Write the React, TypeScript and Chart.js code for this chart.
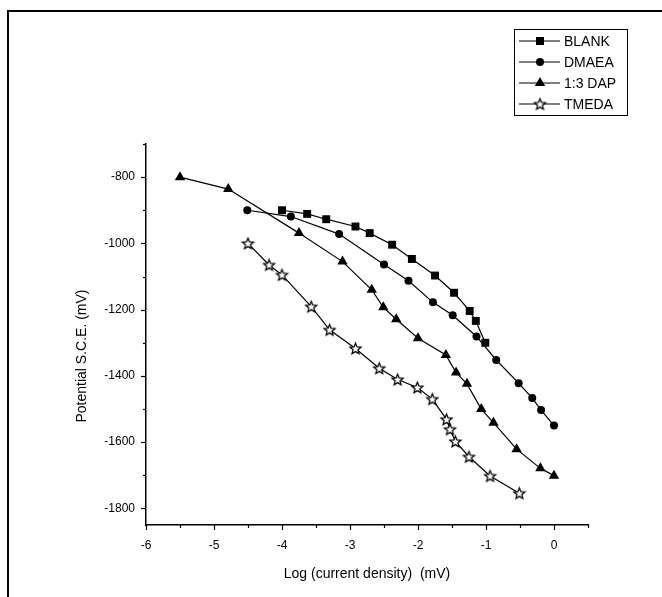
import React, { useEffect, useRef } from "react";
import { Chart, registerables } from "chart.js";

Chart.register(...registerables);

const seriesNames = ["BLANK", "DMAEA", "1:3 DAP", "TMEDA"];

const blankX = [-4.0, -3.63, -3.35, -2.92, -2.71, -2.38, -2.09, -1.75, -1.47, -1.24, -1.15, -1.01];
const blankY = [-900, -911, -927, -949, -969, -1004, -1047, -1097, -1149, -1204, -1234, -1300];

const dmaeaX = [-4.51, -3.87, -3.16, -2.5, -2.14, -1.78, -1.49, -1.14, -0.85, -0.52, -0.32, -0.19, 0.0];
const dmaeaY = [-900, -919, -972, -1064, -1113, -1178, -1217, -1281, -1352, -1422, -1467, -1503, -1550];

const dapX = [-5.5, -4.79, -3.75, -3.11, -2.68, -2.51, -2.32, -2.0, -1.59, -1.44, -1.28, -1.07, -0.89, -0.55, -0.2, 0.0];
const dapY = [-800, -836, -969, -1055, -1140, -1193, -1229, -1286, -1337, -1390, -1424, -1500, -1541, -1621, -1679, -1701];

const tmedaX = [-4.5, -4.19, -4.0, -3.57, -3.3, -2.92, -2.57, -2.3, -2.01, -1.79, -1.58, -1.53, -1.45, -1.25, -0.94, -0.51];
const tmedaY = [-1000, -1065, -1095, -1191, -1261, -1317, -1377, -1411, -1435, -1470, -1531, -1561, -1598, -1644, -1702, -1754];

const xTicks = [-6, -5.5, -5, -4.5, -4, -3.5, -3, -2.5, -2, -1.5, -1, -0.5, 0, 0.5];
const xTickLabels = ["-6", "", "-5", "", "-4", "", "-3", "", "-2", "", "-1", "", "0", ""];
const yTicks = [-1800, -1700, -1600, -1500, -1400, -1300, -1200, -1100, -1000, -900, -800, -700];
const yTickLabels = ["-1800", "", "-1600", "", "-1400", "", "-1200", "", "-1000", "", "-800", ""];

const xTitle = "Log (current density)  (mV)";
const yTitle = "Potential S.C.E. (mV)";

const FONT = "Arial, 'Liberation Sans', Arimo, sans-serif";

function makeStar(r: number, lw: number): HTMLCanvasElement {
  const size = Math.ceil(2 * r + lw * 2 + 2);
  const c = document.createElement("canvas");
  c.width = size;
  c.height = size;
  const ctx = c.getContext("2d")!;
  const cx = size / 2;
  const cy = size / 2 + 0.5;
  ctx.beginPath();
  for (let i = 0; i < 10; i++) {
    const rad = i % 2 === 0 ? r : r * 0.45;
    const a = -Math.PI / 2 + (i * Math.PI) / 5;
    const px = cx + rad * Math.cos(a);
    const py = cy + rad * Math.sin(a);
    if (i === 0) ctx.moveTo(px, py);
    else ctx.lineTo(px, py);
  }
  ctx.closePath();
  ctx.fillStyle = "#fff";
  ctx.fill();
  ctx.lineWidth = lw;
  ctx.lineJoin = "miter";
  ctx.strokeStyle = "#000";
  ctx.stroke();
  return c;
}

function zip(xs: number[], ys: number[]) {
  return xs.map((x, i) => ({ x, y: ys[i] }));
}

export default function App() {
  const ref = useRef<HTMLCanvasElement | null>(null);

  useEffect(() => {
    const canvas = ref.current;
    if (!canvas) return;
    const star = makeStar(5.8, 1.3);

    const styles: any[] = [
      { pointStyle: "rect", pointRadius: 5.6 },
      { pointStyle: "circle", pointRadius: 4 },
      { pointStyle: "triangle", pointRadius: 6 },
      { pointStyle: star, pointRadius: 5 },
    ];
    const data = [zip(blankX, blankY), zip(dmaeaX, dmaeaY), zip(dapX, dapY), zip(tmedaX, tmedaY)];

    const datasets = data.map((d, i) => ({
      label: seriesNames[i],
      data: d,
      borderColor: "#000",
      backgroundColor: "#000",
      borderWidth: 1.2,
      pointBorderWidth: 0,
      pointBackgroundColor: "#000",
      pointBorderColor: "#000",
      showLine: true,
      tension: 0,
      ...styles[i],
    }));

    const decor = {
      id: "decor",
      beforeDraw(chart: any) {
        const ctx = chart.ctx;
        ctx.save();
        ctx.fillStyle = "#fff";
        ctx.fillRect(0, 0, chart.width, chart.height);
        ctx.strokeStyle = "#000";
        ctx.lineWidth = 2;
        ctx.strokeRect(8, 11, 800, 800);
        ctx.restore();
      },
      afterDraw(chart: any) {
        const ctx = chart.ctx;
        const xs = chart.scales.x;
        const ys = chart.scales.y;
        const area = chart.chartArea;
        ctx.save();
        ctx.strokeStyle = "#000";
        ctx.lineWidth = 1.2;
        xTicks.forEach((v, i) => {
          const px = Math.round(xs.getPixelForValue(v)) + 0.5;
          const len = xTickLabels[i] !== "" ? 5 : 3;
          ctx.beginPath();
          ctx.moveTo(px, area.bottom);
          ctx.lineTo(px, area.bottom + len);
          ctx.stroke();
        });
        yTicks.forEach((v, i) => {
          const py = Math.round(ys.getPixelForValue(v)) + 0.5;
          const len = yTickLabels[i] !== "" ? 5 : 3;
          ctx.beginPath();
          ctx.moveTo(area.left, py);
          ctx.lineTo(area.left - len, py);
          ctx.stroke();
        });
        ctx.fillStyle = "#000";
        ctx.font = `14px ${FONT}`;
        ctx.textAlign = "center";
        ctx.textBaseline = "middle";
        ctx.fillText(xTitle, (area.left + area.right) / 2, 574);
        ctx.save();
        ctx.translate(82, 356);
        ctx.rotate(-Math.PI / 2);
        ctx.fillText(yTitle, 0, 0);
        ctx.restore();

        const bx = 514, by = 29, bw = 113, bh = 86;
        ctx.lineWidth = 1;
        ctx.strokeStyle = "#000";
        ctx.strokeRect(bx + 0.5, by + 0.5, bw, bh);
        const rows = [41, 62, 83, 104];
        ctx.font = `14px ${FONT}`;
        ctx.textAlign = "left";
        rows.forEach((ry, i) => {
          ctx.lineWidth = 1.2;
          ctx.beginPath();
          ctx.moveTo(519, ry);
          ctx.lineTo(560, ry);
          ctx.stroke();
          const mx = 540;
          ctx.fillStyle = "#000";
          if (i === 0) {
            ctx.fillRect(mx - 4, ry - 4, 8, 8);
          } else if (i === 1) {
            ctx.beginPath();
            ctx.arc(mx, ry, 4, 0, Math.PI * 2);
            ctx.fill();
          } else if (i === 2) {
            const r = 6;
            ctx.beginPath();
            ctx.moveTo(mx, ry - r);
            ctx.lineTo(mx + r * Math.sin((2 * Math.PI) / 3), ry - r * Math.cos((2 * Math.PI) / 3));
            ctx.lineTo(mx + r * Math.sin((4 * Math.PI) / 3), ry - r * Math.cos((4 * Math.PI) / 3));
            ctx.closePath();
            ctx.fill();
          } else {
            ctx.drawImage(star, mx - star.width / 2, ry - star.height / 2);
          }
          ctx.fillStyle = "#000";
          ctx.fillText(seriesNames[i], 564, ry + 1);
        });
        ctx.restore();
      },
    };

    const chart = new Chart(canvas, {
      type: "scatter",
      data: { datasets },
      plugins: [decor],
      options: {
        responsive: false,
        animation: false,
        layout: { padding: { top: 144, right: 74, left: 0, bottom: 0 } },
        plugins: { legend: { display: false }, tooltip: { enabled: false } },
        scales: {
          x: {
            type: "linear",
            min: -6,
            max: 0.5,
            afterFit: (s: any) => {
              s.height = 72;
            },
            afterBuildTicks: (s: any) => {
              s.ticks = xTicks.map((v) => ({ value: v }));
            },
            ticks: {
              autoSkip: false,
              maxRotation: 0,
              padding: 13,
              color: "#000",
              font: { family: FONT, size: 12 },
              callback: (_v: any, i: number) => xTickLabels[i],
            },
            grid: { drawOnChartArea: false, drawTicks: false },
            border: { display: true, color: "#000", width: 1.5 },
          },
          y: {
            type: "linear",
            min: -1850,
            max: -700,
            afterFit: (s: any) => {
              s.width = 146;
            },
            afterBuildTicks: (s: any) => {
              s.ticks = yTicks.map((v) => ({ value: v }));
            },
            ticks: {
              autoSkip: false,
              padding: 11,
              color: "#000",
              font: { family: FONT, size: 12 },
              callback: (_v: any, i: number) => yTickLabels[i],
            },
            grid: { drawOnChartArea: false, drawTicks: false },
            border: { display: true, color: "#000", width: 1.5 },
          },
        },
      },
    });
    return () => chart.destroy();
  }, []);

  return (
    <div style={{ position: "absolute", left: 0, top: 0, width: 662, height: 597 }}>
      <canvas ref={ref} width={662} height={597} style={{ display: "block" }} />
    </div>
  );
}
